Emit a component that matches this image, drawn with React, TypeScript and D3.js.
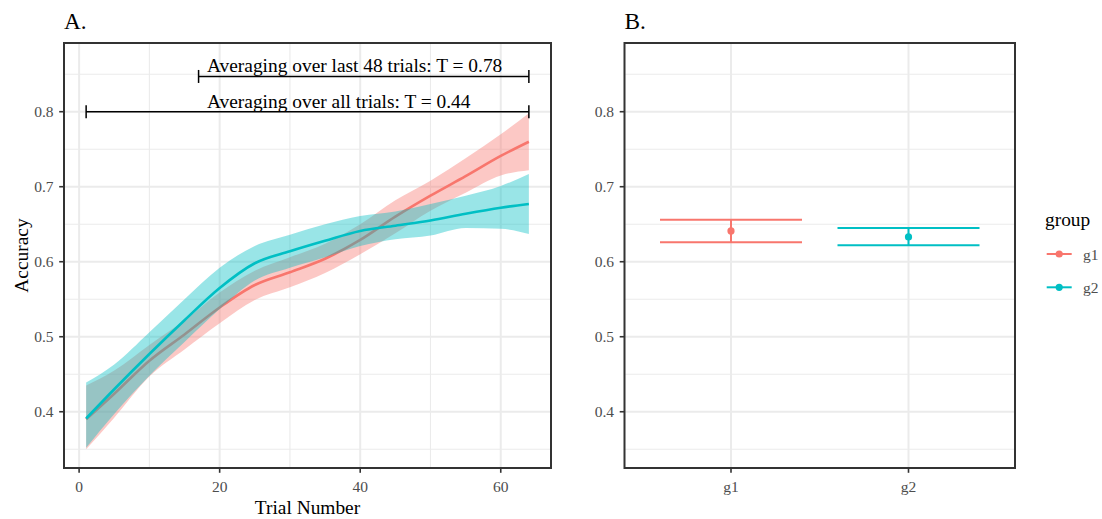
import React from "react";
import * as d3 from "d3";

// ---------- data ----------
const trials = [1, 5, 10, 15, 20, 25, 30, 35, 40, 45, 50, 55, 60, 64];
const g1Mean = [0.390, 0.424, 0.468, 0.503, 0.539, 0.569, 0.586, 0.604, 0.629, 0.660, 0.688, 0.714, 0.741, 0.760];
const g1Lower = [0.350, 0.392, 0.447, 0.483, 0.518, 0.549, 0.566, 0.585, 0.610, 0.638, 0.668, 0.692, 0.715, 0.722];
const g1Upper = [0.435, 0.455, 0.489, 0.522, 0.559, 0.588, 0.606, 0.624, 0.650, 0.682, 0.708, 0.738, 0.770, 0.798];
const g2Mean = [0.391, 0.430, 0.477, 0.522, 0.565, 0.598, 0.614, 0.628, 0.641, 0.648, 0.655, 0.664, 0.672, 0.677];
const g2Lower = [0.352, 0.397, 0.448, 0.493, 0.537, 0.575, 0.592, 0.606, 0.621, 0.630, 0.635, 0.645, 0.644, 0.637];
const g2Upper = [0.439, 0.463, 0.506, 0.550, 0.592, 0.621, 0.636, 0.650, 0.661, 0.667, 0.677, 0.688, 0.701, 0.717];

const groups = ["g1", "g2"];
const groupColors = ["#F8766D", "#00BFC4"];
const groupMean = [0.641, 0.633];
const groupLower = [0.626, 0.622];
const groupUpper = [0.656, 0.645];

const xTicks = [0, 20, 40, 60];
const xMinor = [10, 30, 50];
const yTicks = [0.4, 0.5, 0.6, 0.7, 0.8];
const yMinor = [0.35, 0.45, 0.55, 0.65, 0.75, 0.85];

const annLabels = ["Averaging over last 48 trials: T = 0.78", "Averaging over all trials: T = 0.44"];
const annStart = [17, 1];
const annEnd = [64, 64];
const annY = [0.847, 0.8];
const annTextX = [18.2, 18.2];

// ---------- layout ----------
const W = 1102, H = 519;
const FONT = "'Liberation Serif', 'Times New Roman', serif";
const A = { left: 64, right: 551, top: 43, bottom: 468 };
const B = { left: 624.5, right: 1015, top: 43, bottom: 468 };

export default function App() {
  const y = d3.scaleLinear().domain([0.325, 0.8916]).range([A.bottom, A.top]);
  const x = d3.scaleLinear().domain([-2.15, 67.15]).range([A.left, A.right]);
  const xb = d3.scaleLinear().domain([0.4, 2.6]).range([B.left, B.right]);

  const series = [
    { mean: g1Mean, lo: g1Lower, hi: g1Upper, color: groupColors[0] },
    { mean: g2Mean, lo: g2Lower, hi: g2Upper, color: groupColors[1] },
  ];
  const area = (lo: number[], hi: number[]) =>
    d3.area<number>().x((_, i) => x(trials[i])).y0((_, i) => y(lo[i])).y1((_, i) => y(hi[i])).curve(d3.curveMonotoneX)(trials) || "";
  const line = (m: number[]) =>
    d3.line<number>().x((_, i) => x(trials[i])).y((_, i) => y(m[i])).curve(d3.curveMonotoneX)(trials) || "";

  const gridMinor = "#EBEBEB";
  const gridMajor = "#EBEBEB";
  const tickCol = "#333333";
  const labCol = "#4D4D4D";
  const tickFs = 15.5;
  const titleFs = 19.4;
  const tickLen = 4.8;

  const bw = 0.4; // half width of error bar in category units
  const tickH = 6.5;

  return (
    <svg width={W} height={H} style={{ position: "absolute", left: 0, top: 0, background: "#fff" }} fontFamily={FONT}>
      <rect x={0} y={0} width={W} height={H} fill="#fff" />
      {/* Titles */}
      <text x={A.left} y={29.3} fontSize={23.3} fill="#000">A.</text>
      <text x={B.left} y={29.3} fontSize={23.3} fill="#000">B.</text>

      {/* ---------- Panel A ---------- */}
      <g>
        <rect x={A.left} y={A.top} width={A.right - A.left} height={A.bottom - A.top} fill="#fff" />
        {yMinor.map((v) => (
          <line key={"aym" + v} x1={A.left} x2={A.right} y1={y(v)} y2={y(v)} stroke={gridMinor} strokeWidth={1.1} />
        ))}
        {xMinor.map((v) => (
          <line key={"axm" + v} y1={A.top} y2={A.bottom} x1={x(v)} x2={x(v)} stroke={gridMinor} strokeWidth={1.1} />
        ))}
        {yTicks.map((v) => (
          <line key={"ayM" + v} x1={A.left} x2={A.right} y1={y(v)} y2={y(v)} stroke={gridMajor} strokeWidth={2} />
        ))}
        {xTicks.map((v) => (
          <line key={"axM" + v} y1={A.top} y2={A.bottom} x1={x(v)} x2={x(v)} stroke={gridMajor} strokeWidth={2} />
        ))}
        {series.map((s, i) => (
          <g key={"s" + i}>
            <path d={area(s.lo, s.hi)} fill={s.color} fillOpacity={0.4} stroke="none" />
            <path d={line(s.mean)} fill="none" stroke={s.color} strokeWidth={2.6} />
          </g>
        ))}
        {annLabels.map((lab, i) => (
          <g key={"ann" + i}>
            <line x1={x(annStart[i])} x2={x(annEnd[i])} y1={y(annY[i])} y2={y(annY[i])} stroke="#000" strokeWidth={1.5} />
            <line x1={x(annStart[i])} x2={x(annStart[i])} y1={y(annY[i]) - tickH} y2={y(annY[i]) + tickH} stroke="#000" strokeWidth={1.5} />
            <line x1={x(annEnd[i])} x2={x(annEnd[i])} y1={y(annY[i]) - tickH} y2={y(annY[i]) + tickH} stroke="#000" strokeWidth={1.5} />
            <text x={x(annTextX[i])} y={y(annY[i]) - 4} fontSize={19.4} fill="#000">{lab}</text>
          </g>
        ))}
        <rect x={A.left} y={A.top} width={A.right - A.left} height={A.bottom - A.top} fill="none" stroke={tickCol} strokeWidth={2} />
        {yTicks.map((v) => (
          <g key={"ayt" + v}>
            <line x1={A.left - tickLen} x2={A.left} y1={y(v)} y2={y(v)} stroke={tickCol} strokeWidth={1.6} />
            <text x={A.left - 10.5} y={y(v)} dy="0.35em" textAnchor="end" fontSize={tickFs} fill={labCol}>{d3.format(".1f")(v)}</text>
          </g>
        ))}
        {xTicks.map((v) => (
          <g key={"axt" + v}>
            <line y1={A.bottom} y2={A.bottom + tickLen} x1={x(v)} x2={x(v)} stroke={tickCol} strokeWidth={1.6} />
            <text x={x(v)} y={491.5} textAnchor="middle" fontSize={tickFs} fill={labCol}>{v}</text>
          </g>
        ))}
        <text x={(A.left + A.right) / 2} y={514} textAnchor="middle" fontSize={titleFs} fill="#000">Trial Number</text>
        <text transform={`translate(27.5, ${(A.top + A.bottom) / 2}) rotate(-90)`} textAnchor="middle" fontSize={titleFs} fill="#000">Accuracy</text>
      </g>

      {/* ---------- Panel B ---------- */}
      <g>
        {yMinor.map((v) => (
          <line key={"bym" + v} x1={B.left} x2={B.right} y1={y(v)} y2={y(v)} stroke={gridMinor} strokeWidth={1.1} />
        ))}
        {yTicks.map((v) => (
          <line key={"byM" + v} x1={B.left} x2={B.right} y1={y(v)} y2={y(v)} stroke={gridMajor} strokeWidth={2} />
        ))}
        {groups.map((g, i) => (
          <line key={"bxM" + g} y1={B.top} y2={B.bottom} x1={xb(i + 1)} x2={xb(i + 1)} stroke={gridMajor} strokeWidth={2} />
        ))}
        {groups.map((g, i) => {
          const cx = xb(i + 1);
          const c = groupColors[i];
          return (
            <g key={"eb" + g}>
              <line x1={xb(i + 1 - bw)} x2={xb(i + 1 + bw)} y1={y(groupUpper[i])} y2={y(groupUpper[i])} stroke={c} strokeWidth={2} />
              <line x1={xb(i + 1 - bw)} x2={xb(i + 1 + bw)} y1={y(groupLower[i])} y2={y(groupLower[i])} stroke={c} strokeWidth={2} />
              <line x1={cx} x2={cx} y1={y(groupUpper[i])} y2={y(groupLower[i])} stroke={c} strokeWidth={2} />
              <circle cx={cx} cy={y(groupMean[i])} r={3.6} fill={c} />
            </g>
          );
        })}
        <rect x={B.left} y={B.top} width={B.right - B.left} height={B.bottom - B.top} fill="none" stroke={tickCol} strokeWidth={2} />
        {yTicks.map((v) => (
          <g key={"byt" + v}>
            <line x1={B.left - tickLen} x2={B.left} y1={y(v)} y2={y(v)} stroke={tickCol} strokeWidth={1.6} />
            <text x={B.left - 10.5} y={y(v)} dy="0.35em" textAnchor="end" fontSize={tickFs} fill={labCol}>{d3.format(".1f")(v)}</text>
          </g>
        ))}
        {groups.map((g, i) => (
          <g key={"bxt" + g}>
            <line y1={B.bottom} y2={B.bottom + tickLen} x1={xb(i + 1)} x2={xb(i + 1)} stroke={tickCol} strokeWidth={1.6} />
            <text x={xb(i + 1)} y={491.5} textAnchor="middle" fontSize={tickFs} fill={labCol}>{g}</text>
          </g>
        ))}
      </g>

      {/* ---------- Legend ---------- */}
      <g>
        <text x={1045} y={225.5} fontSize={titleFs} fill="#000">group</text>
        {groups.map((g, i) => {
          const ky = 254 + i * 33.3;
          return (
            <g key={"lg" + g}>
              <line x1={1046.7} x2={1071.7} y1={ky} y2={ky} stroke={groupColors[i]} strokeWidth={2} />
              <circle cx={1059.2} cy={ky} r={3.6} fill={groupColors[i]} />
              <text x={1083} y={ky + 6} fontSize={tickFs} fill={labCol}>{g}</text>
            </g>
          );
        })}
      </g>
    </svg>
  );
}
